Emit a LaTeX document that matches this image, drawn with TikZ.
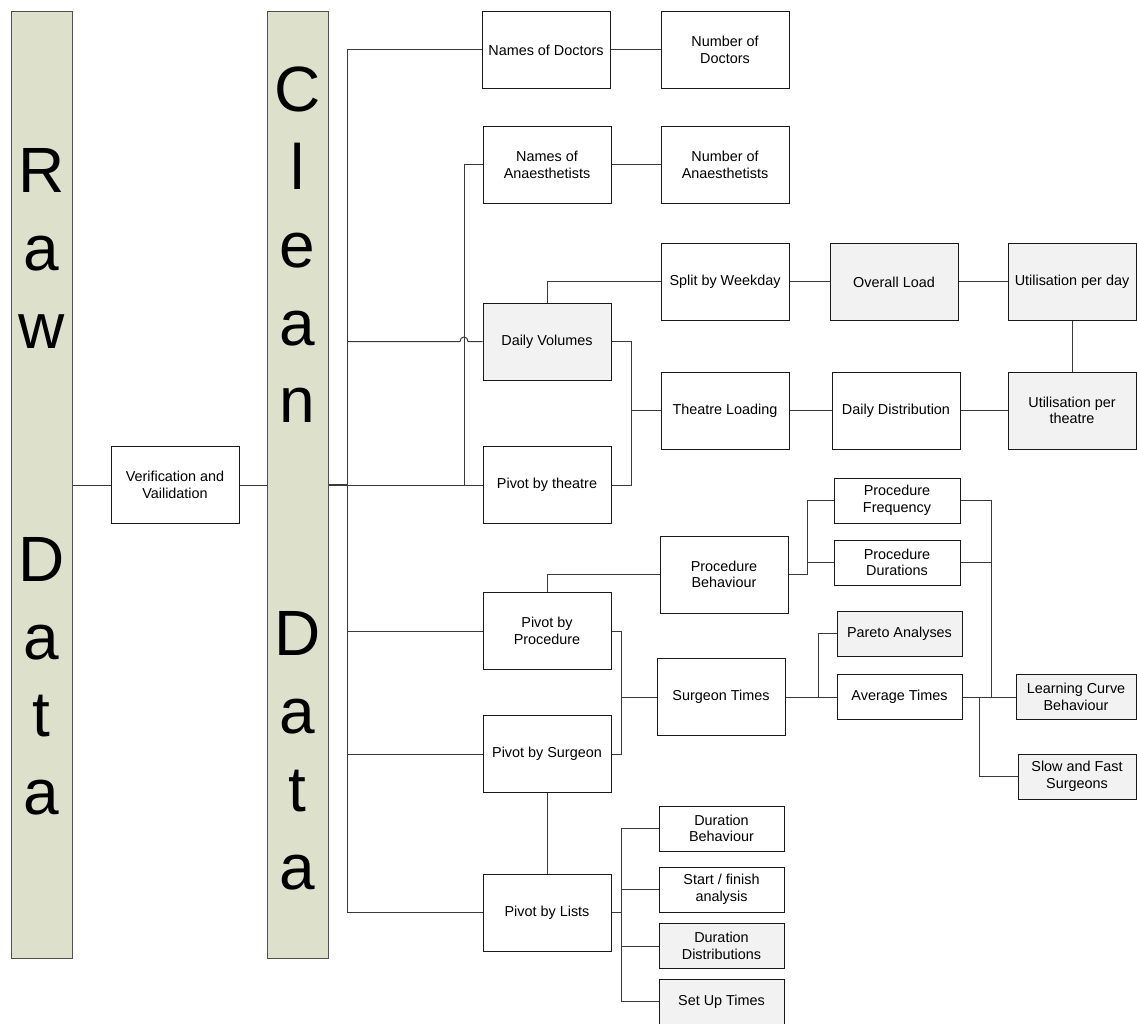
\documentclass[tikz,border=0pt]{standalone}
\usepackage{fontspec}
\setmainfont{Liberation Sans}
\definecolor{barfill}{HTML}{DDE0CB}
\definecolor{barline}{HTML}{505050}
\definecolor{boxgray}{HTML}{F2F2F2}
\definecolor{conn}{HTML}{3A3A3A}
\tikzset{
  box/.style={draw=black!90, line width=0.75pt, fill=white, rectangle, inner sep=0pt, align=center,
    minimum width=96pt, minimum height=57.75pt, font=\fontsize{10.8}{12.5}\selectfont},
  gbox/.style={box, fill=boxgray},
  thin/.style={minimum height=33.75pt},
  bar/.style={draw=barline, line width=0.75pt, fill=barfill, rectangle, inner sep=0pt,
    minimum width=45.75pt, minimum height=709.5pt},
  bigletter/.style={anchor=base, inner sep=0pt, font=\fontsize{48}{58}\selectfont},
  link/.style={draw=conn, line width=0.75pt}
}
\begin{document}
\begin{tikzpicture}[x=0.75pt,y=-0.75pt]
\useasboundingbox (0,0) rectangle (1137,1023);

% bars
\node[bar] (rawbar) at (41.5,485) {};
\node[bar] (cleanbar) at (297.5,485) {};
\foreach \l/\i [count=\n] in {R/0,a/1,w/2,D/5,a/6,t/7,a/8}
  \node[bigletter] (raw\n) at (41.5,{193+77.7*\i}) {\l};
\foreach \l/\i [count=\n] in {C/0,l/1,e/2,a/3,n/4,D/7,a/8,t/9,a/10}
  \node[bigletter] (clean\n) at (297.5,{112+77.7*\i}) {\l};

% nodes
\node[box] (verif) at (175,485) {Verification and\\Vailidation};
\node[box] (ndoc) at (546,50) {Names of Doctors};
\node[box] (numdoc) at (725,50) {Number of\\Doctors};
\node[box] (nan) at (547,165) {Names of\\Anaesthetists};
\node[box] (numan) at (725,165) {Number of\\Anaesthetists};
\node[gbox] (dvol) at (547,341.5) {Daily Volumes};
\node[box] (ptheatre) at (547,485) {Pivot by theatre};
\node[box] (split) at (725,282) {Split by Weekday};
\node[gbox] (overall) at (894,282) {Overall Load};
\node[gbox] (utilday) at (1072,282) {Utilisation per day};
\node[box] (tload) at (725,410.5) {Theatre Loading};
\node[box] (ddist) at (896,410.5) {Daily Distribution};
\node[gbox] (utiltheatre) at (1072,410.5) {Utilisation per\\theatre};
\node[box, thin, minimum width=94.5pt] (pfreq) at (897,500.5) {Procedure\\Frequency};
\node[box, thin, minimum width=94.5pt] (pdur) at (897,562.5) {Procedure\\Durations};
\node[box] (pbeh) at (724,574.5) {Procedure\\Behaviour};
\node[box] (pproc) at (547,631) {Pivot by\\Procedure};
\node[gbox, thin, minimum width=93.75pt] (pareto) at (899.5,633.5) {Pareto Analyses};
\node[box] (stimes) at (721,697) {Surgeon Times};
\node[box, thin, minimum width=93.75pt] (avg) at (899.5,697) {Average Times};
\node[gbox, thin, minimum width=90pt] (lcb) at (1076,697) {Learning Curve\\Behaviour};
\node[gbox, thin, minimum width=88.5pt] (slow) at (1077,776.5) {Slow and Fast\\Surgeons};
\node[box] (psurg) at (547,754) {Pivot by Surgeon};
\node[box] (plists) at (547,912.5) {Pivot by Lists};
\node[box, thin, minimum width=93.75pt] (dbeh) at (721.5,828.5) {Duration\\Behaviour};
\node[box, thin, minimum width=93.75pt] (start) at (721.5,889.5) {Start / finish\\analysis};
\node[gbox, thin, minimum width=93.75pt] (ddistr) at (721.5,946) {Duration\\Distributions};
\node[gbox, thin, minimum width=93.75pt] (setup) at (721.5,1001.5) {Set Up Times};

% bend coordinates
\coordinate (bx) at (347,0);
\coordinate (ax) at (464,0);
\coordinate (tx) at (631,0);
\coordinate (sx) at (621,0);
\coordinate (fx) at (807,0);
\coordinate (px) at (818,0);
\coordinate (ox) at (979,0);
\coordinate (lx) at (991,0);
\coordinate (busMid) at (347,485);

% connectors
\draw[link] (rawbar.east |- verif.west) -- (verif.west);
\draw[link] (verif.east) -- (cleanbar.west |- verif.east);
\draw[link, line width=1.2pt] (cleanbar.east |- busMid) -- (busMid);
\draw[link] (ndoc.west) -- (ndoc.west -| bx) -- (plists.west -| bx) -- (plists.west);
\draw[link] (busMid) -- (ptheatre.west);
\draw[link] (dvol.west -| bx) -- (460,341.5) .. controls (460,335.5) and (468,335.5) .. (468,341.5) -- (dvol.west);
\draw[link] (pproc.west -| bx) -- (pproc.west);
\draw[link] (psurg.west -| bx) -- (psurg.west);
\draw[link] (nan.west) -- (nan.west -| ax) -- (ptheatre.west -| ax);
\draw[link] (ndoc.east) -- (numdoc.west);
\draw[link] (nan.east) -- (numan.west);
\draw[link] (dvol.north) |- (split.west);
\draw[link] (split.east) -- (overall.west);
\draw[link] (overall.east) -- (utilday.west);
\draw[link] (utilday.south) -- (utiltheatre.north);
\draw[link] (tload.east) -- (ddist.west);
\draw[link] (ddist.east) -- (utiltheatre.west);
\draw[link] (dvol.east) -- (dvol.east -| tx) -- (ptheatre.east -| tx) -- (ptheatre.east);
\draw[link] (tload.west -| tx) -- (tload.west);
\draw[link] (pproc.north) |- (pbeh.west);
\draw[link] (pbeh.east) -- (pbeh.east -| fx) -- (pfreq.west -| fx) -- (pfreq.west);
\draw[link] (pdur.west -| fx) -- (pdur.west);
\draw[link] (pfreq.east) -- (pfreq.east -| lx) -- (lcb.west -| lx) -- (lcb.west);
\draw[link] (pdur.east) -- (pdur.east -| lx);
\draw[link] (pproc.east) -- (pproc.east -| sx) -- (psurg.east -| sx) -- (psurg.east);
\draw[link] (stimes.west -| sx) -- (stimes.west);
\draw[link] (stimes.east) -- (avg.west);
\draw[link] (stimes.east -| px) |- (pareto.west);
\draw[link] (avg.east) -- (lcb.west);
\draw[link] (avg.east -| ox) |- (slow.west);
\draw[link] (psurg.south) -- (plists.north);
\draw[link] (plists.east) -- (plists.east -| sx);
\draw[link] (dbeh.west) -- (dbeh.west -| sx) -- (setup.west -| sx) -- (setup.west);
\draw[link] (start.west -| sx) -- (start.west);
\draw[link] (ddistr.west -| sx) -- (ddistr.west);
\end{tikzpicture}
\end{document}
